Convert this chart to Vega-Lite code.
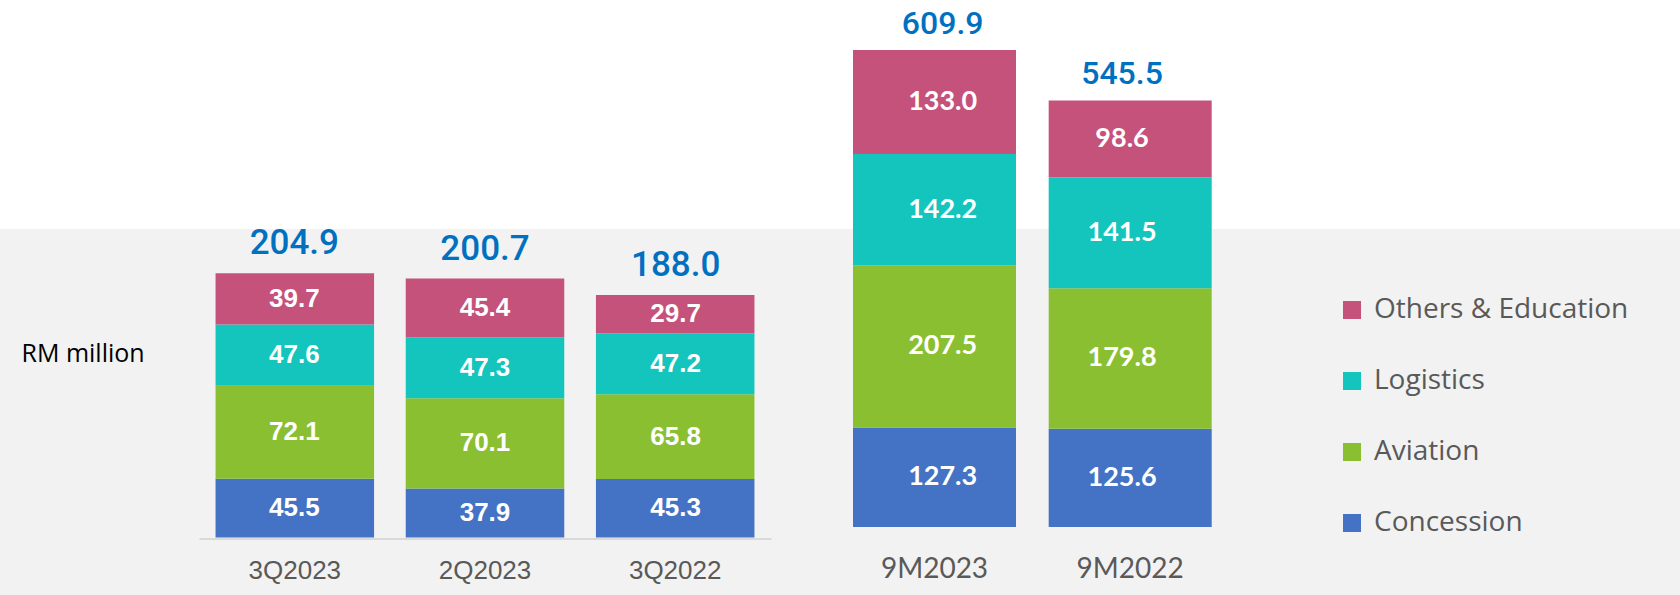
{
  "$schema": "https://vega.github.io/schema/vega-lite/v6.json",
  "autosize": {"type": "none"},
  "width": 1680,
  "height": 366,
  "padding": {"top": 229, "left": 0, "right": 0, "bottom": 0},
  "background": "#ffffff",
  "config": {"view": {"fill": "#F2F2F2", "stroke": null}},
  "datasets": {
    "segments": [
      {"grp": "Q", "period": "3Q2023", "segment": "Concession", "value": 45.5},
      {"grp": "Q", "period": "3Q2023", "segment": "Aviation", "value": 72.1},
      {"grp": "Q", "period": "3Q2023", "segment": "Logistics", "value": 47.6},
      {"grp": "Q", "period": "3Q2023", "segment": "Others & Education", "value": 39.7},
      {"grp": "Q", "period": "2Q2023", "segment": "Concession", "value": 37.9},
      {"grp": "Q", "period": "2Q2023", "segment": "Aviation", "value": 70.1},
      {"grp": "Q", "period": "2Q2023", "segment": "Logistics", "value": 47.3},
      {"grp": "Q", "period": "2Q2023", "segment": "Others & Education", "value": 45.4},
      {"grp": "Q", "period": "3Q2022", "segment": "Concession", "value": 45.3},
      {"grp": "Q", "period": "3Q2022", "segment": "Aviation", "value": 65.8},
      {"grp": "Q", "period": "3Q2022", "segment": "Logistics", "value": 47.2},
      {"grp": "Q", "period": "3Q2022", "segment": "Others & Education", "value": 29.7},
      {"grp": "M", "period": "9M2023", "segment": "Concession", "value": 127.3},
      {"grp": "M", "period": "9M2023", "segment": "Aviation", "value": 207.5},
      {"grp": "M", "period": "9M2023", "segment": "Logistics", "value": 142.2},
      {"grp": "M", "period": "9M2023", "segment": "Others & Education", "value": 133.0},
      {"grp": "M", "period": "9M2022", "segment": "Concession", "value": 125.6},
      {"grp": "M", "period": "9M2022", "segment": "Aviation", "value": 179.8},
      {"grp": "M", "period": "9M2022", "segment": "Logistics", "value": 141.5},
      {"grp": "M", "period": "9M2022", "segment": "Others & Education", "value": 98.6}
    ],
    "totals": [
      {"grp": "Q", "period": "3Q2023", "total": 204.9},
      {"grp": "Q", "period": "2Q2023", "total": 200.7},
      {"grp": "Q", "period": "3Q2022", "total": 188.0},
      {"grp": "M", "period": "9M2023", "total": 609.9},
      {"grp": "M", "period": "9M2022", "total": 545.5}
    ]
  },
  "layer": [
    {
      "data": {"name": "segments"},
      "transform": [
        {"filter": "datum.grp === 'Q'"},
        {"calculate": "indexof(['Concession','Aviation','Logistics','Others & Education'], datum.segment)", "as": "ord"},
        {"stack": "value", "groupby": ["period"], "sort": [{"field": "ord", "order": "ascending"}], "as": ["y0", "y1"]}
      ],
      "mark": {"type": "bar"},
      "encoding": {
        "x": {
          "field": "period", "type": "nominal",
          "scale": {"domain": ["3Q2023", "2Q2023", "3Q2022"], "range": [199, 771], "paddingInner": 0.1665, "paddingOuter": 0.087},
          "axis": {"orient": "bottom", "offset": -56.5, "title": null, "domain": true, "domainColor": "#D9D9D9", "domainWidth": 2, "ticks": false, "labelPadding": 19, "labelFont": "Liberation Sans", "labelFontSize": 26, "labelColor": "#595959", "labelAngle": 0, "grid": false, "zindex": 1}
        },
        "y": {
          "field": "y0", "type": "quantitative",
          "scale": {"domain": [-44.57, 239.15], "nice": false, "zero": false},
          "axis": {"orient": "left", "labels": false, "ticks": false, "domain": false, "grid": false, "title": "RM million", "titleAngle": 0, "titleAlign": "left", "titleBaseline": "middle", "titleX": 21, "titleY": 124, "titleFont": "Open Sans", "titleFontSize": 25, "titleFontWeight": "normal", "titleColor": "#000000", "zindex": 1}
        },
        "y2": {"field": "y1"},
        "color": {
          "field": "segment", "type": "nominal",
          "scale": {"domain": ["Others & Education", "Logistics", "Aviation", "Concession"], "range": ["#C5527A", "#13C5BD", "#8BBF32", "#4472C4"]},
          "legend": {"orient": "none", "legendX": 1338, "legendY": 67, "title": null, "direction": "vertical", "symbolType": "square", "symbolSize": 324, "symbolStrokeWidth": 0, "symbolOpacity": 1, "labelFont": "Open Sans", "labelFontSize": 28, "labelColor": "#595959", "labelOffset": 8, "labelLimit": 0, "rowPadding": 43, "padding": 0}
        }
      }
    },
    {
      "data": {"name": "segments"},
      "transform": [
        {"filter": "datum.grp === 'Q'"},
        {"calculate": "indexof(['Concession','Aviation','Logistics','Others & Education'], datum.segment)", "as": "ord"},
        {"stack": "value", "groupby": ["period"], "sort": [{"field": "ord", "order": "ascending"}], "as": ["y0", "y1"]},
        {"calculate": "(datum.y0 + datum.y1) / 2", "as": "mid"}
      ],
      "mark": {"type": "text", "color": "#ffffff", "font": "Liberation Sans", "fontWeight": "bold", "fontSize": 26, "baseline": "middle", "align": "center"},
      "encoding": {
        "x": {"field": "period", "type": "nominal", "scale": {"domain": ["3Q2023", "2Q2023", "3Q2022"], "range": [199, 771], "paddingInner": 0.1665, "paddingOuter": 0.087}, "axis": null},
        "y": {"field": "mid", "type": "quantitative", "scale": {"domain": [-44.57, 239.15], "nice": false, "zero": false}, "axis": null},
        "text": {"field": "value", "type": "quantitative", "format": ".1f"}
      }
    },
    {
      "data": {"name": "totals"},
      "transform": [{"filter": "datum.grp === 'Q'"}],
      "mark": {"type": "text", "color": "#0070C0", "font": "Roboto", "fontWeight": 500, "fontSize": 35, "baseline": "alphabetic", "align": "center", "dy": -19},
      "encoding": {
        "x": {"field": "period", "type": "nominal", "scale": {"domain": ["3Q2023", "2Q2023", "3Q2022"], "range": [199, 771], "paddingInner": 0.1665, "paddingOuter": 0.087}, "axis": null},
        "y": {"field": "total", "type": "quantitative", "scale": {"domain": [-44.57, 239.15], "nice": false, "zero": false}, "axis": null},
        "text": {"field": "total", "type": "quantitative", "format": ".1f"}
      }
    },
    {
      "data": {"name": "segments"},
      "transform": [
        {"filter": "datum.grp === 'M'"},
        {"calculate": "indexof(['Concession','Aviation','Logistics','Others & Education'], datum.segment)", "as": "ord"},
        {"stack": "value", "groupby": ["period"], "sort": [{"field": "ord", "order": "ascending"}], "as": ["y0", "y1"]}
      ],
      "mark": {"type": "bar"},
      "encoding": {
        "x": {
          "field": "period", "type": "nominal",
          "scale": {"domain": ["9M2023", "9M2022"], "range": [853, 1211.7], "paddingInner": 0.167, "paddingOuter": 0},
          "axis": {"orient": "bottom", "offset": -56.5, "title": null, "domain": false, "ticks": false, "labelPadding": 17, "labelFont": "Lato", "labelFontSize": 28, "labelColor": "#595959", "labelAngle": 0, "grid": false, "zindex": 1}
        },
        "y": {"field": "y0", "type": "quantitative", "scale": {"domain": [-86.96, 381.07], "nice": false, "zero": false}, "axis": null},
        "y2": {"field": "y1"},
        "color": {"field": "segment", "type": "nominal"}
      }
    },
    {
      "data": {"name": "segments"},
      "transform": [
        {"filter": "datum.grp === 'M'"},
        {"calculate": "indexof(['Concession','Aviation','Logistics','Others & Education'], datum.segment)", "as": "ord"},
        {"stack": "value", "groupby": ["period"], "sort": [{"field": "ord", "order": "ascending"}], "as": ["y0", "y1"]},
        {"calculate": "(datum.y0 + datum.y1) / 2", "as": "mid"}
      ],
      "mark": {"type": "text", "color": "#ffffff", "font": "Lato", "fontWeight": "bold", "fontSize": 27, "baseline": "middle", "align": "center"},
      "encoding": {
        "x": {"field": "period", "type": "nominal", "scale": {"domain": ["9M2023", "9M2022"], "range": [853, 1211.7], "paddingInner": 0.167, "paddingOuter": 0}, "axis": null},
        "y": {"field": "mid", "type": "quantitative", "scale": {"domain": [-86.96, 381.07], "nice": false, "zero": false}, "axis": null},
        "text": {"field": "value", "type": "quantitative", "format": ".1f"}
      }
    },
    {
      "data": {"name": "totals"},
      "transform": [{"filter": "datum.grp === 'M'"}],
      "mark": {"type": "text", "color": "#0070C0", "font": "Roboto", "fontWeight": 500, "fontSize": 32, "baseline": "alphabetic", "align": "center", "dy": -16},
      "encoding": {
        "x": {"field": "period", "type": "nominal", "scale": {"domain": ["9M2023", "9M2022"], "range": [853, 1211.7], "paddingInner": 0.167, "paddingOuter": 0}, "axis": null},
        "y": {"field": "total", "type": "quantitative", "scale": {"domain": [-86.96, 381.07], "nice": false, "zero": false}, "axis": null},
        "text": {"field": "total", "type": "quantitative", "format": ".1f"}
      }
    }
  ],
  "resolve": {"scale": {"x": "independent", "y": "independent"}}
}
